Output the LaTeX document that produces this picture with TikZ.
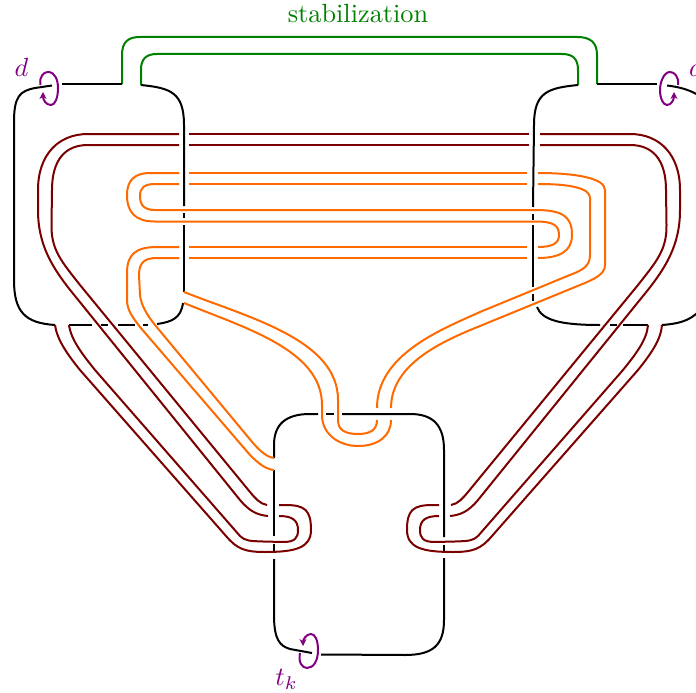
\documentclass[tikz,border=0pt]{standalone}
\usetikzlibrary{arrows.meta}
\definecolor{kgreen}{RGB}{0,128,0}
\definecolor{kred}{RGB}{122,0,0}
\definecolor{korange}{RGB}{255,106,0}
\definecolor{kpurple}{RGB}{128,0,128}
\tikzset{
  blackline/.style={draw=black,line width=2pt},
  greenline/.style={draw=kgreen,line width=2pt},
  redline/.style={draw=kred,line width=2pt},
  orangeline/.style={draw=korange,line width=2pt},
  loopline/.style={draw=kpurple,line width=2pt,-{Stealth[length=7pt,width=7pt]}},
  lab/.style={inner sep=0pt},
}
\begin{document}
\begin{tikzpicture}[x=1pt,y=-1pt]
\useasboundingbox (0,0) rectangle (696,693);
\clip (0,0) rectangle (696,693);
% green
\draw[greenline] (122,84) -- (122,55) .. controls (122,42) and (128,37) .. (140,37) -- (577,37) .. controls (590,37) and (597,42) .. (597,55) -- (597,84);
\draw[greenline] (141,85) -- (141,70) .. controls (141,59) and (146,54) .. (157,54) -- (562,54) .. controls (573,54) and (578,59) .. (578,70) -- (578,85);
% black, left
\draw[blackline] (122,84) -- (62,84);
\draw[blackline] (52,85.5) -- (35,88) .. controls (20,91) and (14,96) .. (14,122) -- (14,280) .. controls (14,312) and (25,323) .. (55,325);
\draw[blackline] (69,325) -- (92,325);
\draw[blackline] (101,325) -- (108,325);
\draw[blackline] (118,325) -- (135,325);
\draw[blackline] (143,325) -- (148,325);
\draw[blackline] (157,324) .. controls (172,322) and (181,318) .. (183,303);
\draw[blackline] (141,85) .. controls (170,88) and (184,92) .. (184,125) -- (184,206);
\draw[blackline] (184,213) -- (184,218);
\draw[blackline] (184,225) -- (184,292);
% black, right
\draw[blackline] (597,84) -- (657,84);
\draw[blackline] (667,85.5) .. controls (680,87) and (690,90) .. (700,96);
\draw[blackline] (578,85) .. controls (548,88) and (534,92) .. (534,125) -- (533,207);
\draw[blackline] (533,214) -- (533,220);
\draw[blackline] (533,225) -- (533,287);
\draw[blackline] (533,294) -- (533,301);
\draw[blackline] (537,307) .. controls (542,320) and (560,325) .. (600,325);
\draw[blackline] (610,325) -- (617,325);
\draw[blackline] (623,325) -- (648,325);
\draw[blackline] (662,325) .. controls (675,324) and (690,322) .. (700,310);
% black, bottom
\draw[blackline] (274,458) -- (274,445) .. controls (274,425) and (285,414) .. (310,414) -- (318,414);
\draw[blackline] (326,414) -- (334,414);
\draw[blackline] (342,414) -- (410,414) .. controls (433,414) and (444,425) .. (444,450) -- (444,537);
\draw[blackline] (444,545) -- (444,551);
\draw[blackline] (444,558) -- (444,620) .. controls (444,645) and (433,655) .. (405,655) -- (321,654.5);
\draw[blackline] (312,653) -- (290,649) .. controls (280,646) and (274,640) .. (274,615) -- (274,559);
\draw[blackline] (274,551) -- (274,544);
\draw[blackline] (274,536) -- (274,470);
% red, left
\draw[redline] (179,134) -- (88,134) .. controls (58,134) and (38,155) .. (38,190) -- (38,210) .. controls (38,245) and (52,268) .. (75,296) -- (240,500) .. controls (250,512) and (258,515) .. (268,516);
\draw[redline] (179,145) -- (88,145) .. controls (65,145) and (52,160) .. (52,190) -- (51.5,225) .. controls (51,250) and (62,262) .. (80,285) -- (250,492) .. controls (255,498) and (260,504) .. (267,505);
\draw[redline] (189,134) -- (529,134);
\draw[redline] (189,145) -- (529,145);
\draw[redline] (279,505) -- (285,505) .. controls (305,505) and (311,510) .. (311,530) .. controls (311,548) and (295,552) .. (265,552) .. controls (245,552) and (237,549) .. (226,536) -- (80,370) .. controls (68,355) and (57,340) .. (55,325);
\draw[redline] (279,516) .. controls (292,516) and (298,520) .. (298,530) .. controls (298,538) and (295,542) .. (283,542) -- (263,541.5) .. controls (250,541) and (245,541) .. (240,536) -- (95,370) .. controls (83,355) and (71,340) .. (69,325);
% red, right
\draw[redline] (540,134) -- (630,134) .. controls (660,134) and (680,155) .. (680,190) -- (680,210) .. controls (680,245) and (666,268) .. (643,296) -- (478,500) .. controls (468,512) and (460,515) .. (450,516);
\draw[redline] (540,145) -- (630,145) .. controls (653,145) and (666,160) .. (666,190) -- (666.5,225) .. controls (667,250) and (656,262) .. (638,285) -- (468,492) .. controls (463,498) and (458,504) .. (451,505);
\draw[redline] (439,505) -- (433,505) .. controls (413,505) and (407,510) .. (407,530) .. controls (407,548) and (423,552) .. (453,552) .. controls (473,552) and (481,549) .. (492,536) -- (638,370) .. controls (650,355) and (661,340) .. (662,325);
\draw[redline] (439,516) .. controls (426,516) and (420,520) .. (420,530) .. controls (420,538) and (423,542) .. (435,542) -- (455,541.5) .. controls (468,541) and (473,541) .. (478,536) -- (623,370) .. controls (635,355) and (647,340) .. (648,325);
% orange
\draw[orangeline] (179,173) -- (150,173) .. controls (135,173) and (127,180) .. (127,195) .. controls (127,212) and (135,221.5) .. (155,221.5) -- (535,221.5) .. controls (553,221.5) and (559,225) .. (559,235) .. controls (559,243) and (553,247) .. (538,247);
\draw[orangeline] (179,184) -- (155,184) .. controls (144,184) and (140,188) .. (140,196) .. controls (140,205) and (144,210) .. (155,210) -- (535,210) .. controls (562,210) and (572,216) .. (572,235) .. controls (572,251) and (560,258) .. (538,258);
\draw[orangeline] (189,173) -- (527,173);
\draw[orangeline] (189,184) -- (527,184);
\draw[orangeline] (189,247) -- (527,247);
\draw[orangeline] (189,258) -- (527,258);
\draw[orangeline] (538,173) .. controls (575,173) and (605,178) .. (605,190) -- (605,265) .. controls (605,274) and (595,279) .. (580,285) -- (480,326) .. controls (440,342) and (391,365) .. (391,408);
\draw[orangeline] (538,184) .. controls (570,184) and (590,188) .. (590,198) -- (590,255) .. controls (590,268) and (580,271) .. (565,277) -- (480,312) .. controls (440,330) and (377,355) .. (377,408);
\draw[orangeline] (179,247) -- (157,247) .. controls (135,247) and (127,255) .. (127,273) -- (127,300) .. controls (127,310) and (133,318) .. (140,327) -- (250,455) .. controls (258,463) and (265,469) .. (274,470);
\draw[orangeline] (179,258) -- (157,258) .. controls (145,258) and (139,262) .. (139,275) -- (140,295) .. controls (141,305) and (147,315) .. (155,325) -- (248,437) .. controls (256,447) and (265,457) .. (274,458);
\draw[orangeline] (184,292) .. controls (250,318) and (338,340) .. (338,400) -- (338,420) .. controls (338,430) and (345,434) .. (358,434) .. controls (370,434) and (377,430) .. (377,420);
\draw[orangeline] (184,303) .. controls (245,328) and (322,350) .. (322,405) -- (322,415) .. controls (322,435) and (340,446) .. (358,446) .. controls (378,446) and (391,436) .. (391,420);
% purple loops
\draw[loopline] (40.5,85) .. controls (39,76) and (44,72) .. (48,72) .. controls (55,72) and (58,80) .. (58,88) .. controls (58,98) and (55,105) .. (51,105) .. controls (46,105) and (43,100) .. (43,92);
\draw[loopline] (678,85) .. controls (679,76) and (674,72) .. (670,72) .. controls (664,72) and (660,82) .. (660,90) .. controls (660,98) and (663,105) .. (667,105) .. controls (671,105) and (674,100) .. (674,92);
\draw[loopline] (300,653) .. controls (298,662) and (302,668) .. (307,668) .. controls (314,668) and (318,660) .. (318,650) .. controls (318,640) and (315,634) .. (311,634) .. controls (306,634) and (303,640) .. (303,646);
% labels
\node[lab,text=kgreen] (stab) at (358,14) {\scalebox{2.63}{stabilization}};
\node[lab,text=kpurple] (dleft) at (21.5,67) {\scalebox{2.63}{$d$}};
\node[lab,text=kpurple] (dright) at (696,67) {\scalebox{2.63}{$d$}};
\node[lab,text=kpurple] (tk) at (286.5,679) {\scalebox{2.63}{$t_k$}};
\end{tikzpicture}
\end{document}
